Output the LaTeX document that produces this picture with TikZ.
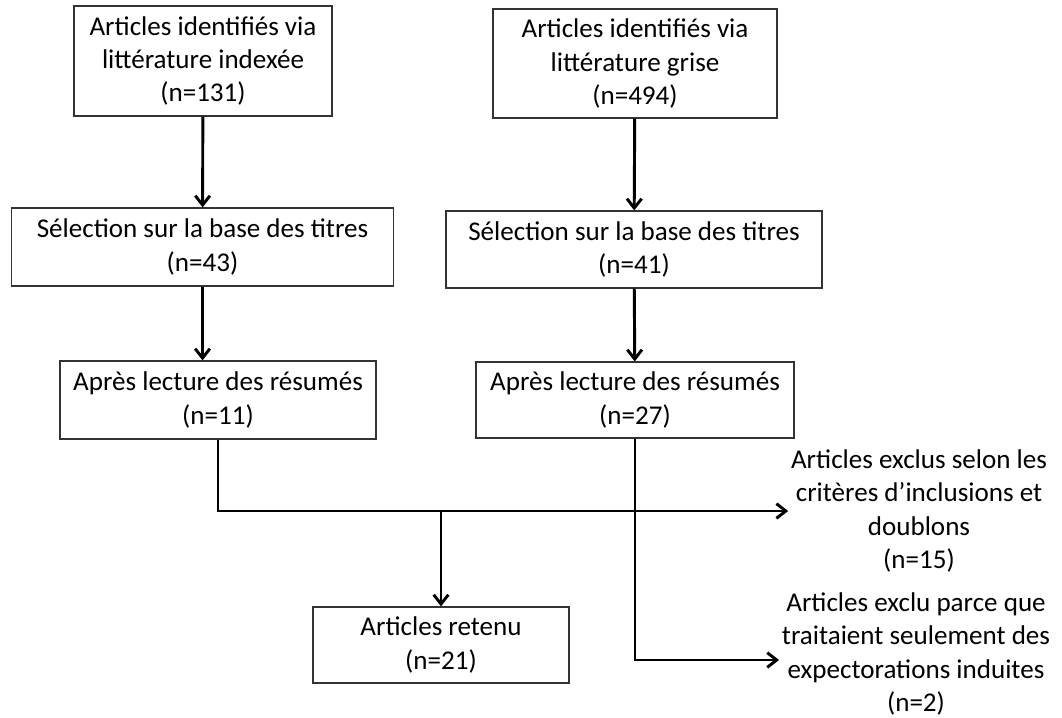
\documentclass[tikz,border=0pt]{standalone}
\usepackage{fontspec}
\setmainfont{Carlito}
\usepackage{tikz}
\usetikzlibrary{arrows.meta}

\tikzset{
  box/.style={draw=black!80, line width=0.9pt, align=center, inner sep=0pt},
  flow/.style={-{Straight Barb[length=7pt, width=11pt]}, line width=2.2pt},
  every node/.style={font=\fontsize{20.3}{24.8}\selectfont}
}

\begin{document}
\begin{tikzpicture}[x=0.75pt, y=-0.75pt]
  \useasboundingbox (0,0) rectangle (1062,717);
  \node [box, minimum width=193.5pt, minimum height=82.5pt] (L1) at (203, 61)
    {Articles identifiés via\\ littérature indexée\\ (n=131)};
  \node [box, minimum width=213pt, minimum height=81.75pt] (R1) at (635, 63.5)
    {Articles identifiés via\\ littérature grise\\ (n=494)};
  \node [box, minimum width=287pt, minimum height=58.5pt] (L2) at (202.5, 247)
    {Sélection sur la base des titres\\ (n=43)};
  \node [box, minimum width=282pt, minimum height=57.75pt] (R2) at (634, 249.5)
    {Sélection sur la base des titres\\ (n=41)};
  \node [box, minimum width=237pt, minimum height=58.5pt] (L3) at (218, 400)
    {Après lecture des résumés\\ (n=11)};
  \node [box, minimum width=238.5pt, minimum height=57pt] (R3) at (635, 400)
    {Après lecture des résumés\\ (n=27)};
  \node [box, minimum width=192pt, minimum height=57pt] (RET) at (441, 645)
    {Articles retenu\\ (n=21)};
  \node [align=center, inner sep=2pt] (E1) at (919, 511)
    {Articles exclus selon les\\ critères d’inclusions et\\ doublons\\ (n=15)};
  \node [align=center, inner sep=2pt] (E2) at (916, 654)
    {Articles exclu parce que\\ traitaient seulement des\\ expectorations induites\\ (n=2)};

  \draw [flow] (L1) -- (L2);
  \draw [flow] (R1) -- (R2);
  \draw [flow] (L2.south) -- (L2.south |- L3.north);
  \draw [flow] (R2) -- (R3);
  \draw [flow] (L3.south) |- (E1.west);
  \coordinate (M) at (RET.north |- E1.west);
  \draw [flow] (M) -- (RET.north);
  \draw [flow] (R3.south) |- ([yshift=-4.5pt]E2.west);
\end{tikzpicture}
\end{document}
